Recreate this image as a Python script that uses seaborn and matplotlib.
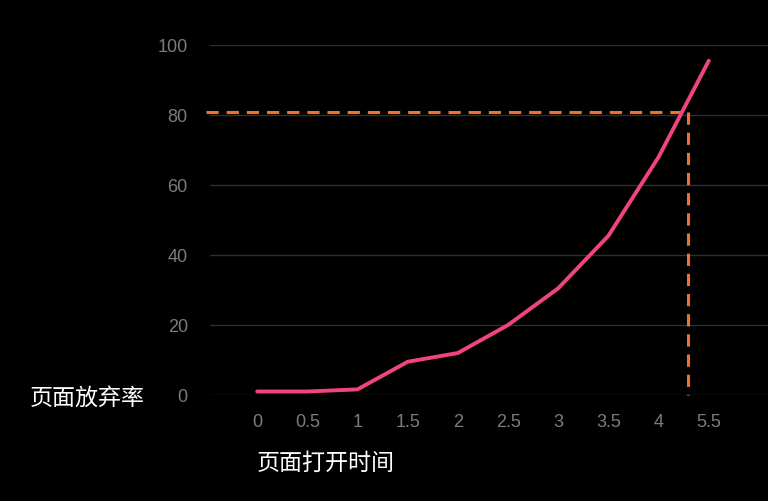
import numpy as np
import seaborn as sns
import pandas as pd
import matplotlib
matplotlib.use("Agg")
import matplotlib.pyplot as plt

# data
open_time = ['0', '0.5', '1', '1.5', '2', '2.5', '3', '3.5', '4', '5.5']
abandon_rate = [1, 1, 1.6, 9.5, 12, 20, 30.5, 45.5, 68, 95.5]
y_ticks = [0, 20, 40, 60, 80, 100]
mark_rate = 80.8
mark_pos = 8.59

df = pd.DataFrame({'idx': np.arange(len(open_time)), 'rate': abandon_rate})

sns.set_theme(style="dark")
plt.rcParams['font.family'] = ['Noto Sans CJK SC', 'DejaVu Sans']

fig = plt.figure(figsize=(7.68, 5.02), dpi=100, facecolor='black')
ax = fig.add_axes([210/768, 106/502, 558/768, 350/502])
ax.set_facecolor('black')

for y in y_ticks:
    ax.axhline(y, color='#2e2e2e', linewidth=1, zorder=0)

sns.lineplot(data=df, x='idx', y='rate', ax=ax, color='#f0457a', linewidth=2.8,
             zorder=3, clip_on=False)

ax.plot([-1.02, mark_pos], [mark_rate, mark_rate], color='#f2702c', linewidth=2.2,
        dashes=(4, 2.6), clip_on=False, zorder=2)
ax.plot([mark_pos, mark_pos], [mark_rate, 0], color='#f2702c', linewidth=2.2,
        dashes=(4, 2.6), clip_on=False, zorder=2)

ax.set_xlim(-0.94, 10.18)
ax.set_ylim(0, 100)
ax.set_xticks(np.arange(len(open_time)))
ax.set_xticklabels(open_time)
ax.set_yticks(y_ticks)
ax.tick_params(axis='both', length=0, labelsize=13, labelcolor='#7c7c7c')
ax.tick_params(axis='y', pad=16)
ax.tick_params(axis='x', pad=13)
for lab in ax.get_xticklabels() + ax.get_yticklabels():
    lab.set_family(['Liberation Sans', 'DejaVu Sans'])
ax.grid(False)
for s in ax.spines.values():
    s.set_visible(False)
ax.set_xlabel('')
ax.set_ylabel('')

fig.text(30/768, 1 - 398/502, '页面放弃率', color='white', fontsize=16.6,
         ha='left', va='center')
fig.text(257/768, 1 - 463/502, '页面打开时间', color='white', fontsize=16.6,
         ha='left', va='center')

fig.savefig('out.png', dpi=100, facecolor='black')
